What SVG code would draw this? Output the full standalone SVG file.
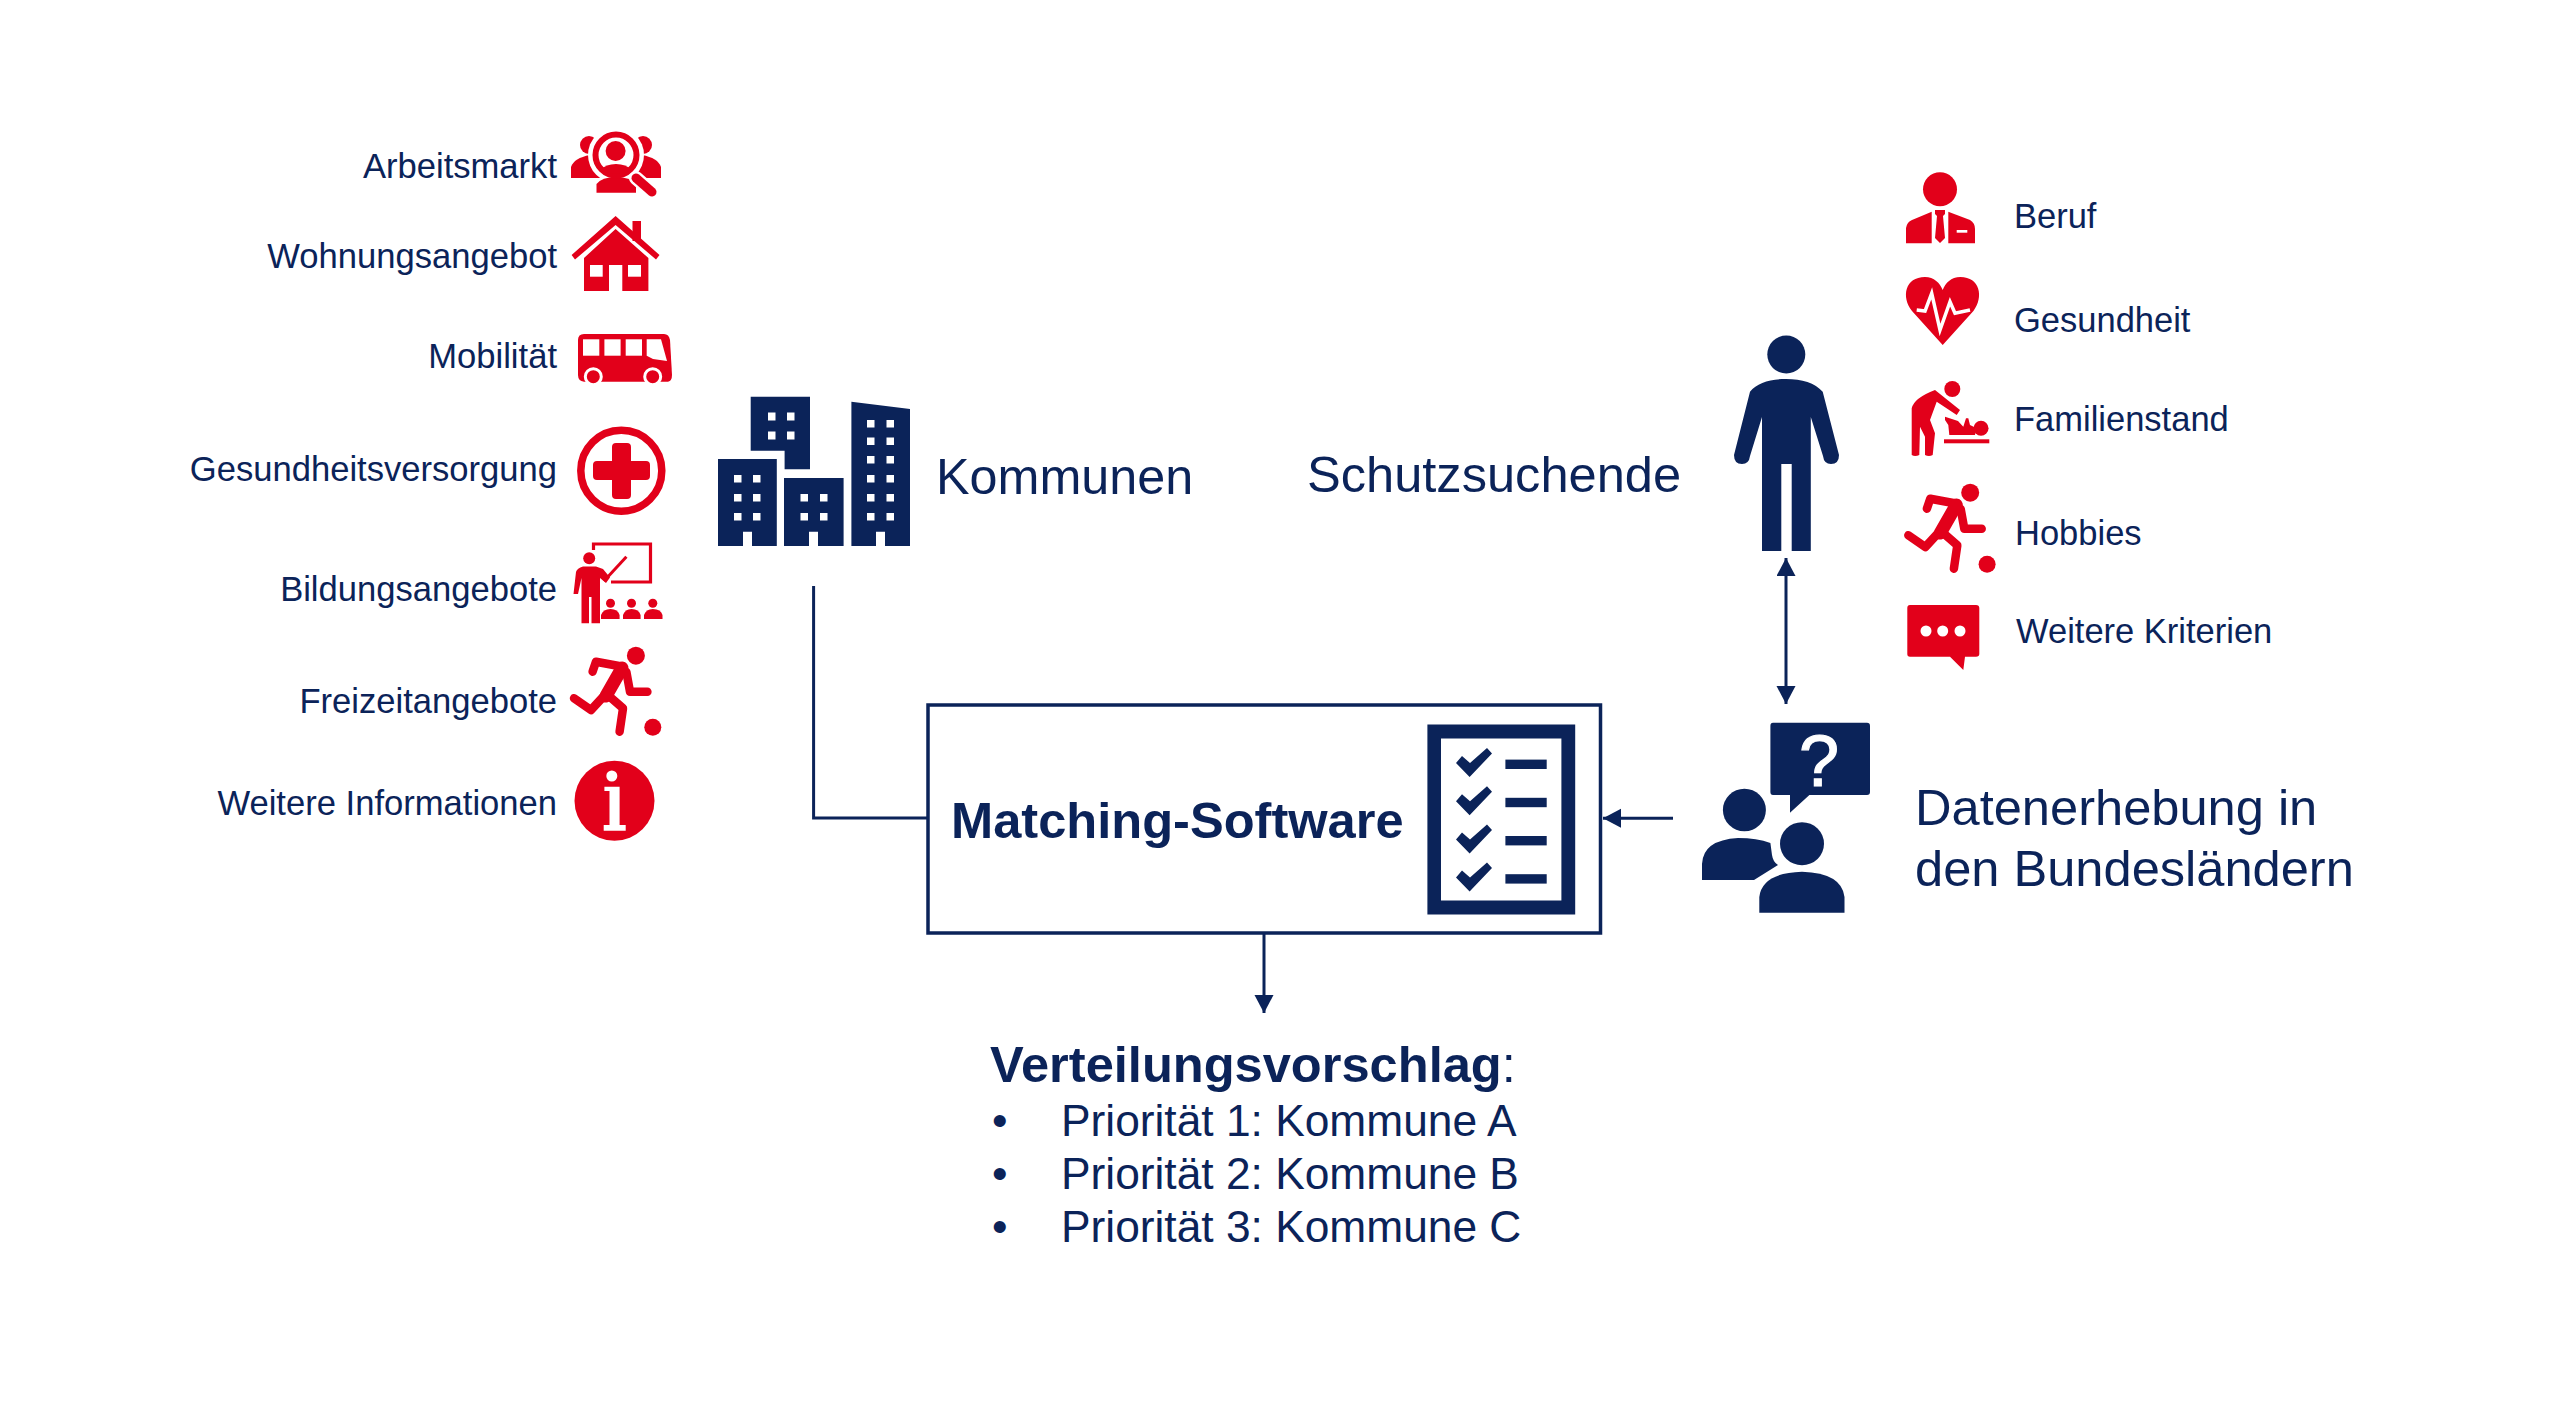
<svg xmlns="http://www.w3.org/2000/svg" width="2560" height="1409" viewBox="0 0 2560 1409">
<style>
text{font-family:"Liberation Sans",Arial,sans-serif;fill:#0b2359}
.l{font-size:34.6px;text-anchor:end}
.r{font-size:34.5px}
.b{font-size:50.6px}
.p{font-size:44.3px}
.red{fill:#e2001a}
.navy{fill:#0b2359}
.w{fill:#fff}
.rs{fill:none;stroke:#e2001a;stroke-width:8.5;stroke-linecap:round;stroke-linejoin:round}
.conn{fill:none;stroke:#0b2359;stroke-width:3}
</style>
<defs>
<marker id="arrow" markerUnits="userSpaceOnUse" markerWidth="20" markerHeight="20" refX="18" refY="9.5" orient="auto-start-reverse"><path d="M0,0L18,9.5L0,19Z" fill="#0b2359"/></marker>
<g id="runner">
<circle class="red" cx="635.9" cy="655.7" r="9"/>
<circle class="red" cx="652.8" cy="727.3" r="8.5"/>
<path class="rs" d="M592.6,671.7L596,661.7L623,666.7"/>
<path class="rs" style="stroke-width:13" d="M622,668L606,696"/>
<path class="rs" d="M626.4,672L630,691.7H647.4"/>
<path class="rs" d="M603,697L591,710L574,698.3"/>
<path class="rs" d="M607.8,695L623,708.3L619.6,731.7"/>
</g>
<g id="check">
<path class="navy" d="M1456,763L1469.6,777L1492,753.5L1487,748L1470,763L1462,756Z"/>
<rect class="navy" x="1505.4" y="759.6" width="41.3" height="9.4"/>
</g>
</defs>
<rect width="2560" height="1409" fill="#fff"/>

<g id="connectors">
<path class="conn" d="M813.6,586V818H927"/>
<path class="conn" d="M1264,933V1013" marker-end="url(#arrow)"/>
<path class="conn" d="M1673,818.3H1603" marker-end="url(#arrow)"/>
<path class="conn" d="M1786,558V704" marker-start="url(#arrow)" marker-end="url(#arrow)"/>
</g>

<g id="arbeitsmarkt">
<text class="l" x="557" y="178">Arbeitsmarkt</text>
<circle class="red" cx="589" cy="145" r="9"/><circle class="red" cx="643" cy="145" r="9"/>
<path class="red" d="M571,178V167Q574,158 590,155H642Q658,158 661,167V178Z"/>
<circle class="w" cx="616" cy="155" r="28"/>
<path class="red" d="M596.5,192.7V184Q602,177 616,177Q630,177 636,184V192.7Z"/>
<circle cx="616" cy="155" r="20.5" fill="#fff" stroke="#e2001a" stroke-width="6"/>
<circle class="red" cx="615.6" cy="151" r="10"/>
<path class="red" d="M600,170Q606,164 616,164Q626,164 632,170Q625,174 616,174Q607,174 600,170Z"/>
<path d="M636,178L652,192" stroke="#fff" stroke-width="14" stroke-linecap="round"/>
<path d="M636,178L652,192" stroke="#e2001a" stroke-width="9" stroke-linecap="round"/>
</g>

<g id="wohnungsangebot">
<text class="l" x="557" y="268">Wohnungsangebot</text>
<rect class="red" x="632.5" y="221" width="8.5" height="20"/>
<path class="red" d="M615.6,216L659.5,255L656,259.5L615.6,225L575,259.5L571.6,255Z"/>
<path class="red" d="M615.6,229L648.4,258V291H622.3V265H609V291H584V258Z"/>
<rect class="w" x="590" y="265" width="12.7" height="11.7"/><rect class="w" x="628" y="265" width="13" height="11.7"/>
</g>

<g id="mobilitaet">
<text class="l" x="557" y="368">Mobilität</text>
<path class="red" d="M584,334H664Q669,334 670,340L672,375Q672,381 668,381.7H584Q578,381 578,375V340Q578,334 584,334Z"/>
<rect class="w" x="583" y="339.3" width="16.3" height="16.4"/><rect class="w" x="604.4" y="339.3" width="16.2" height="16.4"/><rect class="w" x="625.7" y="339.3" width="16.3" height="16.4"/>
<path class="w" d="M646.7,339.3H661L667,361L653,359L646.7,355.7Z"/>
<circle class="red" cx="593.3" cy="376.7" r="8" stroke="#fff" stroke-width="3"/><circle class="red" cx="652.7" cy="376.7" r="8" stroke="#fff" stroke-width="3"/>
</g>

<g id="gesundheitsversorgung">
<text class="l" x="557" y="481">Gesundheitsversorgung</text>
<circle cx="621.3" cy="470.7" r="40.5" fill="#fff" stroke="#e2001a" stroke-width="7.5"/>
<path class="red" d="M612,447Q612,443 616,443H627Q631,443 631,447V461H646Q650,461 650,465V476Q650,480 646,480H631V495Q631,499 627,499H616Q612,499 612,495V480H597Q593,480 593,476V465Q593,461 597,461H612Z"/>
</g>

<g id="bildungsangebote">
<text class="l" x="557" y="601">Bildungsangebote</text>
<path d="M593.5,550V544H650.5V582H611" fill="none" stroke="#e2001a" stroke-width="3.2"/>
<circle class="red" cx="589.2" cy="558.3" r="6"/>
<path class="red" d="M583,566.5H596L603,569L610,577.5L606,583L600,578V623.3H591.5V597H589V623.3H581.5V578L578,594H573.5L576,572Q577,568 583,566.5Z"/>
<path d="M604,581L626.4,556.7" stroke="#e2001a" stroke-width="3"/>
<circle class="red" cx="610.5" cy="603.3" r="4.5"/><circle class="red" cx="631.5" cy="603.3" r="4.5"/><circle class="red" cx="652.8" cy="603.3" r="4.5"/>
<path class="red" d="M601,619V615Q603,609 610.5,609Q618,609 619.6,615V619Z"/>
<path class="red" d="M623,619V615Q625,609 631.5,609Q639,609 640.6,615V619Z"/>
<path class="red" d="M644,619V615Q646,609 652.8,609Q661,609 662.5,615V619Z"/>
</g>

<g id="freizeitangebote">
<text class="l" x="557" y="713">Freizeitangebote</text>
<use href="#runner"/>
</g>

<g id="weitere-informationen">
<text class="l" x="557" y="815">Weitere Informationen</text>
<circle class="red" cx="614.5" cy="800.7" r="40"/>
<circle class="w" cx="611.8" cy="776" r="5.5"/>
<path class="w" d="M604.4,786.7H619.6V825H625.7V830.7H603.7V825H609.5V791H604.4Z"/>
</g>

<g id="kommunen">
<path class="navy" d="M750.7,396.7H810V469.3H784.6V450.7H750.7Z"/>
<path class="navy" d="M718,459H776.8V546H752V531.7H743V546H718Z"/>
<path class="navy" d="M784,478H843.6V546H818V531.7H809V546H784Z"/>
<path class="navy" d="M851.4,401.7L910,409V546H885V531.7H876V546H851.4Z"/>
<g class="w">
<rect x="768" y="412.5" width="7.5" height="8"/><rect x="787" y="412.5" width="7.5" height="8"/><rect x="768" y="431.5" width="7.5" height="8"/><rect x="787" y="431.5" width="7.5" height="8"/>
<rect x="734" y="475" width="7.5" height="7.5"/><rect x="753" y="475" width="7.5" height="7.5"/><rect x="734" y="494" width="7.5" height="7.5"/><rect x="753" y="494" width="7.5" height="7.5"/><rect x="734" y="513" width="7.5" height="7.5"/><rect x="753" y="513" width="7.5" height="7.5"/>
<rect x="800.5" y="494" width="7.5" height="7.5"/><rect x="820" y="494" width="7.5" height="7.5"/><rect x="800.5" y="513" width="7.5" height="7.5"/><rect x="820" y="513" width="7.5" height="7.5"/>
<rect x="867" y="420" width="7.5" height="7.5"/><rect x="886.5" y="420" width="7.5" height="7.5"/><rect x="867" y="437.5" width="7.5" height="7.5"/><rect x="886.5" y="437.5" width="7.5" height="7.5"/><rect x="867" y="456" width="7.5" height="7.5"/><rect x="886.5" y="456" width="7.5" height="7.5"/><rect x="867" y="475" width="7.5" height="7.5"/><rect x="886.5" y="475" width="7.5" height="7.5"/><rect x="867" y="494" width="7.5" height="7.5"/><rect x="886.5" y="494" width="7.5" height="7.5"/><rect x="867" y="513" width="7.5" height="7.5"/><rect x="886.5" y="513" width="7.5" height="7.5"/>
</g>
<text x="936" y="494" style="font-size:50.3px">Kommunen</text>
</g>

<g id="schutzsuchende">
<text class="b" x="1307" y="492">Schutzsuchende</text>
<ellipse class="navy" cx="1786.3" cy="354.5" rx="19" ry="19"/>
<path class="navy" d="M1786,379C1770,379 1757,383 1750,391.7L1734,455Q1734,464 1742,464Q1749,464 1750,456L1762,417V551H1781.3V464H1791.7V551H1810.8V417L1823,456Q1824,464 1831,464Q1839,464 1839,455L1822.7,391.7C1815,383 1802,379 1786,379Z"/>
</g>

<g id="matching-software">
<rect x="928" y="705" width="672.5" height="228" fill="none" stroke="#0b2359" stroke-width="3.5"/>
<text class="b" x="951" y="838" font-weight="700">Matching-Software</text>
<path class="navy" fill-rule="evenodd" d="M1427.4,724.4H1575.2V914.6H1427.4ZM1441,738.6V900.5H1561.4V738.6Z"/>
<use href="#check"/>
<use href="#check" y="38.2"/>
<use href="#check" y="76.4"/>
<use href="#check" y="114.6"/>
</g>

<g id="datenerhebung">
<path class="navy" d="M1773,722.7H1867Q1870,722.7 1870,726V792Q1870,795 1867,795H1809.4L1790,812.7L1790,795H1773Q1770.4,795 1770.4,792V726Q1770.4,722.7 1773,722.7Z"/>
<text x="1819" y="786" text-anchor="middle" style="font-size:72px;fill:#fff;stroke:#fff;stroke-width:1.2">?</text>
<ellipse class="navy" cx="1744.4" cy="810" rx="21.5" ry="21.3"/>
<path class="navy" d="M1702,880V864Q1703,840 1738,838Q1757,838 1770.4,843L1772,855Q1773,862 1778,865L1754,880Z"/>
<ellipse class="navy" cx="1802" cy="843.7" rx="22" ry="21.5"/>
<path class="navy" d="M1759.3,912.7V897Q1762,873 1802,871.7Q1842,873 1844.5,897V912.7Z"/>
<text class="b" x="1915" y="824.5">Datenerhebung in</text>
<text class="b" x="1915" y="885.5">den Bundesländern</text>
</g>

<g id="verteilungsvorschlag">
<text class="b" x="990" y="1082"><tspan font-weight="700">Verteilungsvorschlag</tspan>:</text>
<text class="p" x="992" y="1136">•</text><text class="p" x="1061" y="1136">Priorität 1: Kommune A</text>
<text class="p" x="992" y="1189">•</text><text class="p" x="1061" y="1189">Priorität 2: Kommune B</text>
<text class="p" x="992" y="1242">•</text><text class="p" x="1061" y="1242">Priorität 3: Kommune C</text>
</g>

<g id="beruf">
<circle class="red" cx="1940" cy="189.3" r="17"/>
<path class="red" d="M1906,243.3V228Q1907,222 1912,220L1931.7,211.7V243.3Z"/>
<path class="red" d="M1948.3,243.3V211.7L1970,220Q1975,223 1975,229V243.3Z"/>
<path class="red" d="M1935,210H1945V214L1943,216L1945,238L1940,243L1935,238L1937,216L1935,214Z"/>
<rect class="w" x="1956.7" y="230" width="10.6" height="2.7"/>
<text class="r" x="2014" y="228">Beruf</text>
</g>

<g id="gesundheit">
<path class="red" d="M1942.7,345L1912,311C1901,297 1905,277 1925,277C1934,277 1940,283 1942.7,290C1945.4,283 1951,277 1960.4,277C1980,277 1984,297 1973.4,311Z"/>
<path d="M1916.7,310L1925,311L1931.7,293.3L1940,330L1950,301.7L1955,313.3L1970,310" fill="none" stroke="#fff" stroke-width="3.5"/>
<text class="r" x="2014" y="332">Gesundheit</text>
</g>

<g id="familienstand">
<circle class="red" cx="1952.3" cy="389" r="8"/>
<path class="red" d="M1911.7,408.3Q1914,398 1935,390L1960,410L1956.7,415L1936.7,401.7L1930,420L1935,433.3L1932.7,455Q1929,457 1925,455V436.7L1920,426.7L1919.3,455Q1915,457 1911.7,455Z"/>
<circle class="red" cx="1981" cy="428.3" r="7.5"/>
<path class="red" d="M1945,416.7L1958,421L1963.3,426.7L1966,418.3H1968.3L1970,425L1976.7,428.3L1975,435H1949.3L1948.3,425L1945,420Z"/>
<rect class="red" x="1944" y="439.3" width="45.3" height="4"/>
<text class="r" x="2014" y="431">Familienstand</text>
</g>

<g id="hobbies">
<use href="#runner" transform="translate(1334.3,-163)"/>
<text class="r" x="2015" y="545">Hobbies</text>
</g>

<g id="weitere-kriterien">
<path class="red" d="M1910,605H1976Q1979.3,605 1979.3,608V654Q1979.3,656.7 1976,656.7H1965L1963.3,670L1950,656.7H1910Q1907.3,656.7 1907.3,654V608Q1907.3,605 1910,605Z"/>
<circle class="w" cx="1926" cy="631" r="5.5"/><circle class="w" cx="1942.7" cy="631" r="5.5"/><circle class="w" cx="1960" cy="631" r="5.5"/>
<text class="r" x="2016" y="643">Weitere Kriterien</text>
</g>
</svg>
